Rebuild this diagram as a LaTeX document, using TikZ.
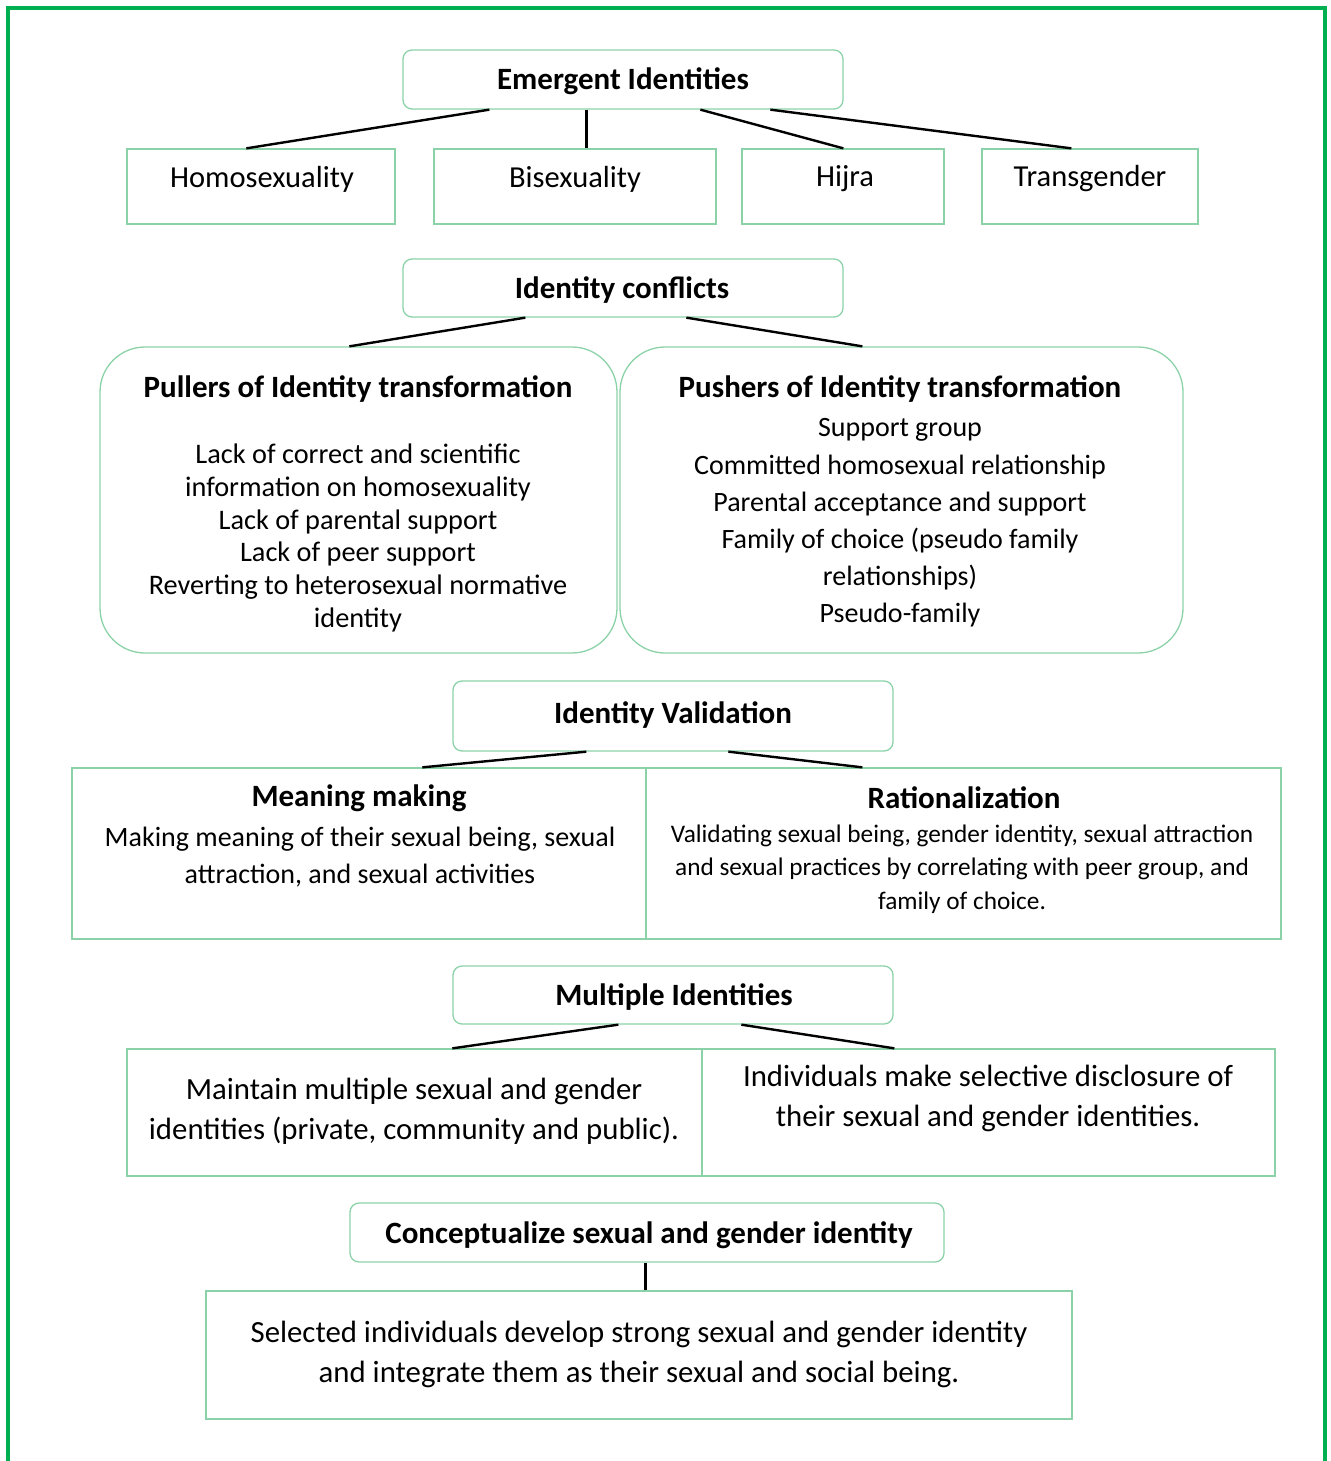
\documentclass[tikz,border=0pt]{standalone}
\usepackage{fontspec}
\setmainfont{Carlito}
\usetikzlibrary{calc}
\definecolor{framegreen}{RGB}{0,176,80}
\definecolor{edgegreen}{RGB}{140,210,168}
\tikzset{
  box/.style={draw=edgegreen, line width=1.3pt, inner sep=0pt},
  headbox/.style={box, rounded corners=9pt},
  bigbox/.style={box, rounded corners=45pt},
  link/.style={line width=2.4pt, black},
  txt/.style={inner sep=0pt, align=center, font=\fontsize{30.5}{36}\selectfont},
  small/.style={inner sep=0pt, align=center, font=\fontsize{25.3}{33.5}\selectfont},
  head/.style={inner sep=0pt, align=center, font=\fontsize{31}{36}\selectfont\bfseries},
}
\begin{document}
\begin{tikzpicture}[x=1pt, y=-1pt]
\useasboundingbox (0,0) rectangle (1330,1461);
% outer frame, open at the bottom
\draw[framegreen, line width=4pt] (8,1470) -- (8,8) -- (1325,8) -- (1325,1470);

% --- Emergent identities ---
\node[headbox, minimum width=440pt, minimum height=59pt] (emerg) at (623,79.5) {};
\node[head] (emerg-t) at (623,81) {Emergent Identities};
\node[box, minimum width=268pt, minimum height=75pt] (homo) at (261,186.5) {};
\node[box, minimum width=282pt, minimum height=75pt] (bisex) at (575,186.5) {};
\node[box, minimum width=202pt, minimum height=75pt] (hijra) at (843,186.5) {};
\node[box, minimum width=216pt, minimum height=75pt] (trans) at (1090,186.5) {};
\node[txt] (homo-t) at (262,179) {Homosexuality};
\node[txt] (bisex-t) at (575,179) {Bisexuality};
\node[txt] (hijra-t) at (845,179) {Hijra};
\node[txt] (trans-t) at (1090,179) {Transgender};
\draw[link] ([xshift=87pt]emerg.south west) -- ([xshift=120pt]homo.north west);
\draw[link] ([xshift=184pt]emerg.south west) -- ([xshift=153pt]bisex.north west);
\draw[link] ([xshift=298pt]emerg.south west) -- ([xshift=102pt]hijra.north west);
\draw[link] ([xshift=368pt]emerg.south west) -- ([xshift=90pt]trans.north west);

% --- Identity conflicts ---
\node[headbox, minimum width=440pt, minimum height=58pt] (conf) at (623,288) {};
\node[head] (conf-t) at (622,290) {Identity conflicts};
\node[bigbox, minimum width=517pt, minimum height=306pt] (pull) at (358.5,500) {};
\node[bigbox, minimum width=563pt, minimum height=306pt] (push) at (901.5,500) {};
\node[head] (pull-h) at (358,389) {Pullers of Identity transformation};
\node[txt, font=\fontsize{28.3}{32.8}\selectfont] (pull-t) at (358,538)
  {Lack of correct and scientific\\information on homosexuality\\Lack of parental support\\Lack of peer support\\Reverting to heterosexual normative\\identity};
\node[head] (push-h) at (900,389) {Pushers of Identity transformation};
\node[txt, font=\fontsize{28}{37.2}\selectfont] (push-t) at (900,523)
  {Support group\\Committed homosexual relationship\\Parental acceptance and support\\Family of choice (pseudo family\\relationships)\\Pseudo-family};
\draw[link] ([xshift=123pt]conf.south west) -- ([xshift=250pt]pull.north west);
\draw[link] ([xshift=284pt]conf.south west) -- ([xshift=243pt]push.north west);

% --- Identity validation ---
\node[headbox, minimum width=440pt, minimum height=70pt] (valid) at (673,716) {};
\node[head] (valid-t) at (673,715) {Identity Validation};
\node[box, minimum width=574pt, minimum height=171pt] (mean) at (359,853.5) {};
\node[box, minimum width=635pt, minimum height=171pt] (ration) at (963.5,853.5) {};
\node[head] (mean-h) at (359,798) {Meaning making};
\node[txt, font=\fontsize{28}{37}\selectfont] (mean-t) at (360,857)
  {Making meaning of their sexual being, sexual\\attraction, and sexual activities};
\node[head] (ration-h) at (964,798) {Rationalization};
\node[small] (ration-t) at (962,869)
  {Validating sexual being, gender identity, sexual attraction\\and sexual practices by correlating with peer group, and\\family of choice.};
\draw[link] ([xshift=134pt]valid.south west) -- ([xshift=351pt]mean.north west);
\draw[link] ([xshift=276pt]valid.south west) -- ([xshift=217pt]ration.north west);

% --- Multiple identities ---
\node[headbox, minimum width=440pt, minimum height=58pt] (multi) at (673,995) {};
\node[head] (multi-t) at (674,997) {Multiple Identities};
\node[box, minimum width=575pt, minimum height=127pt] (keep) at (414.5,1112.5) {};
\node[box, minimum width=573pt, minimum height=127pt] (disc) at (988.5,1112.5) {};
\node[txt, font=\fontsize{30.8}{40}\selectfont] (keep-t) at (414,1111)
  {Maintain multiple sexual and gender\\identities (private, community and public).};
\node[txt, font=\fontsize{30.8}{40}\selectfont] (disc-t) at (988,1098)
  {Individuals make selective disclosure of\\their sexual and gender identities.};
\draw[link] ([xshift=166pt]multi.south west) -- ([xshift=326pt]keep.north west);
\draw[link] ([xshift=289pt]multi.south west) -- ([xshift=193pt]disc.north west);

% --- Conceptualize sexual and gender identity ---
\node[headbox, minimum width=594pt, minimum height=59pt] (concept) at (647,1232.5) {};
\node[head] (concept-t) at (649,1235) {Conceptualize sexual and gender identity};
\node[box, minimum width=866pt, minimum height=128pt] (strong) at (639,1355) {};
\node[txt, font=\fontsize{30.8}{40}\selectfont] (strong-t) at (639,1354)
  {Selected individuals develop strong sexual and gender identity\\and integrate them as their sexual and social being.};
\draw[link] ([xshift=296pt]concept.south west) -- ([xshift=440pt]strong.north west);
\end{tikzpicture}
\end{document}
